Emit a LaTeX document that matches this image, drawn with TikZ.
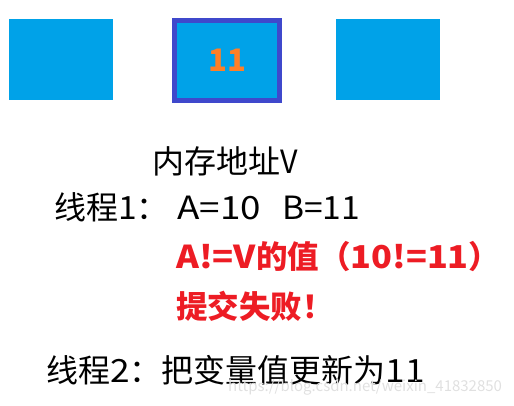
\documentclass[tikz,border=0pt]{standalone}
\usepackage{graphicx}
\usepackage{fontspec}
\setmainfont{Noto Sans CJK SC}
\definecolor{boxblue}{RGB}{0,162,232}
\definecolor{rimblue}{RGB}{63,72,204}
\definecolor{numorange}{RGB}{255,127,39}
\definecolor{alertred}{RGB}{237,28,36}
\newcommand{\wide}[2]{\scalebox{#1}[1]{#2}}
\begin{document}
\begin{tikzpicture}[x=1pt,y=1pt,
  cell/.style={fill=boxblue,draw=none,minimum width=104pt,minimum height=81pt,inner sep=0pt,outer sep=0pt},
  txt/.style={anchor=base west,inner sep=0pt,font=\fontsize{32}{36}\selectfont},
  redtxt/.style={txt,text=alertred,font=\fontsize{31.5}{36}\selectfont\bfseries}]
\useasboundingbox (0,0) rectangle (514,405);
\node[cell] (c1) at (61,345.5) {};
\node[cell,draw=rimblue,line width=5pt,minimum width=105pt,minimum height=80pt,
      text=numorange,font=\fontsize{31}{36}\selectfont\bfseries] (c2) at (227,344.5) {11};
\node[cell] (c3) at (388,345.5) {};
\node[txt] (addr) at (152,232) {内存地址\wide{0.95}{V}};
\node[txt] (t1) at (54,186) {线程\wide{1.05}{1}：};
\node[txt] (t1a) at (177,186) {\wide{1.15}{A=10}};
\node[txt] (t1b) at (282,186) {\wide{1.05}{B=11}};
\node[redtxt] (cmp) at (176,137) {\wide{1.1}{A!=V}的值（\wide{1.09}{10!=11}）};
\node[redtxt] (fail) at (176,87) {提交失败！};
\node[txt] (t2) at (46,23) {线程\wide{1.1}{2}：把变量值更新为\wide{1.1}{11}};
\node[anchor=base west,inner sep=0pt,text=black!12,font=\fontsize{15}{18}\selectfont] (wm) at (228,14) {https://blog.csdn.net/weixin\_41832850};
\end{tikzpicture}
\end{document}
